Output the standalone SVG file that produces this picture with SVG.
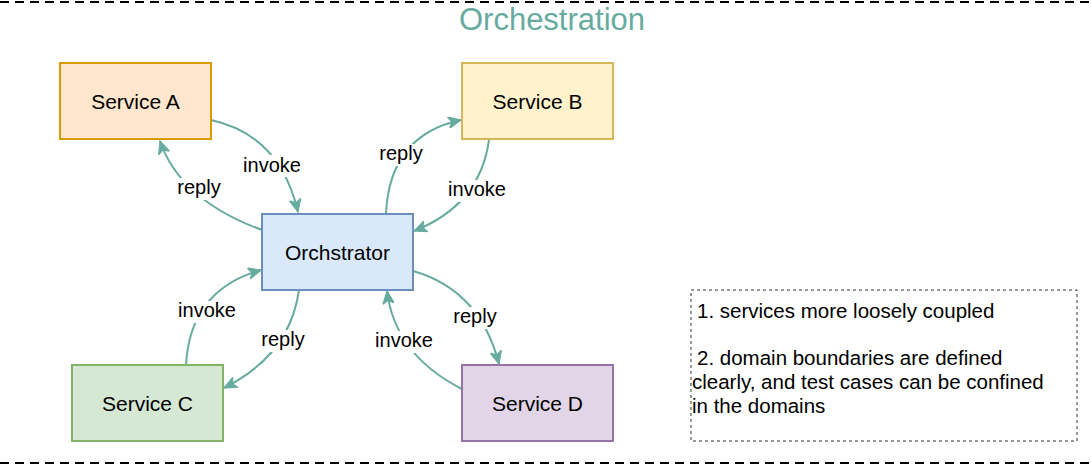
<svg xmlns="http://www.w3.org/2000/svg" width="1091" height="466" viewBox="0 0 1091 466">
<style>
text{font-family:"Liberation Sans",Arial,sans-serif;fill:#000;}
.lbl{font-size:20px;text-anchor:middle;}
.nlbl{font-size:21px;text-anchor:middle;}
.node{stroke-width:2;}
.edge{fill:none;stroke:#67AB9F;stroke-width:2;}
.bg{fill:#fff;}
.sep{stroke:#000;stroke-width:2;stroke-dasharray:9 6;fill:none;}
.note{font-size:20.5px;}
</style>
<defs>
<marker id="arr" markerUnits="userSpaceOnUse" markerWidth="14" markerHeight="12" refX="13" refY="6" orient="auto">
<path d="M0,0 L13,6 L0,12 L3.5,6 Z" fill="#67AB9F" stroke="#67AB9F" stroke-width="1"/>
</marker>
</defs>
<rect width="1091" height="466" fill="#fff"/>
<line class="sep" x1="0" y1="2" x2="1091" y2="2"/>
<line class="sep" x1="0" y1="463" x2="1091" y2="463"/>
<text x="552" y="30" font-size="31" text-anchor="middle" style="fill:#67AB9F">Orchestration</text>

<g id="connectors">
<path class="edge" d="M211,120 Q280,135 298,212" marker-end="url(#arr)"/>
<path class="edge" d="M262,230 Q180,200 160,141" marker-end="url(#arr)"/>
<path class="edge" d="M386,213 Q390,135 461,120" marker-end="url(#arr)"/>
<path class="edge" d="M489,140 Q480,205 414,231" marker-end="url(#arr)"/>
<path class="edge" d="M186,365 Q190,290 261,270" marker-end="url(#arr)"/>
<path class="edge" d="M299,290 Q290,355 224,388" marker-end="url(#arr)"/>
<path class="edge" d="M413,271 Q480,290 499,364" marker-end="url(#arr)"/>
<path class="edge" d="M462,389 Q395,355 387,291" marker-end="url(#arr)"/>
<rect class="bg" x="243" y="155" width="58" height="22"/>
<text class="lbl" x="272" y="172">invoke</text>
<rect class="bg" x="175" y="178" width="48" height="22"/>
<text class="lbl" x="199" y="194">reply</text>
<rect class="bg" x="377" y="144" width="48" height="22"/>
<text class="lbl" x="401" y="160">reply</text>
<rect class="bg" x="448" y="180" width="58" height="22"/>
<text class="lbl" x="477" y="196">invoke</text>
<rect class="bg" x="178" y="301" width="58" height="22"/>
<text class="lbl" x="207" y="317">invoke</text>
<rect class="bg" x="259" y="330" width="48" height="22"/>
<text class="lbl" x="283" y="346">reply</text>
<rect class="bg" x="451" y="307" width="48" height="22"/>
<text class="lbl" x="475" y="323">reply</text>
<rect class="bg" x="375" y="331" width="58" height="22"/>
<text class="lbl" x="404" y="347">invoke</text>
</g>

<g id="serviceA">
<rect class="node" x="60" y="63" width="151" height="76" fill="#ffe6cc" stroke="#d79b00"/>
<text class="nlbl" x="135.5" y="109">Service A</text>
</g>
<g id="serviceB">
<rect class="node" x="462" y="63" width="151" height="76" fill="#fff2cc" stroke="#d6b656"/>
<text class="nlbl" x="537.5" y="109">Service B</text>
</g>
<g id="orchestrator">
<rect class="node" x="262" y="214" width="151" height="76" fill="#dae8fc" stroke="#6c8ebf"/>
<text class="nlbl" x="337.5" y="260">Orchstrator</text>
</g>
<g id="serviceC">
<rect class="node" x="72" y="365" width="151" height="76" fill="#d5e8d4" stroke="#82b366"/>
<text class="nlbl" x="147.5" y="411">Service C</text>
</g>
<g id="serviceD">
<rect class="node" x="462" y="365" width="151" height="76" fill="#e1d5e7" stroke="#9673a6"/>
<text class="nlbl" x="537.5" y="411">Service D</text>
</g>

<g id="note">
<rect x="691" y="290" width="386" height="151" fill="none" stroke="#333" stroke-width="1" stroke-dasharray="3 3"/>
<text class="note" x="697" y="318">1. services more loosely coupled</text>
<text class="note" x="697" y="365">2. domain boundaries are defined</text>
<text class="note" x="692" y="389">clearly, and test cases can be confined</text>
<text class="note" x="692" y="413">in the domains</text>
</g>
</svg>
